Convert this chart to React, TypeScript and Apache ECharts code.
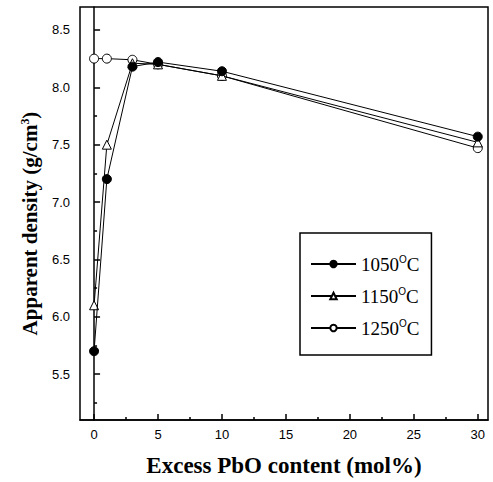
import React, { useEffect, useRef } from "react";
import * as echarts from "echarts";

const xValues = [0, 1, 3, 5, 10, 30];
const d1050 = [5.7, 7.2, 8.18, 8.22, 8.14, 7.57];
const d1150 = [6.1, 7.5, 8.21, 8.2, 8.1, 7.52];
const d1250 = [8.25, 8.25, 8.24, 8.2, 8.1, 7.47];
const xMajor = [0, 5, 10, 15, 20, 25, 30];
const xMinor = [2.5, 7.5, 12.5, 17.5, 22.5, 27.5];
const yMajor = [5.5, 6.0, 6.5, 7.0, 7.5, 8.0, 8.5];
const yMinor = [5.25, 5.75, 6.25, 6.75, 7.25, 7.75, 8.25];
const seriesNames = ["1050", "1150", "1250"];

const X_MIN = -1.1, X_MAX = 30.8, Y_MIN = 5.1, Y_MAX = 8.7;

export default function App() {
  const ref = useRef<HTMLDivElement>(null);
  useEffect(() => {
    const chart = echarts.init(ref.current!, null, { renderer: "svg" });
    const pts = (ys: number[]) => xValues.map((x, i) => [x, ys[i]]);
    const labelFont = { fontFamily: "Liberation Sans", fontSize: 13, color: "#000" };
    const titleFont = { fontFamily: "Liberation Serif", fontWeight: "bold", color: "#000" };
    const baseLine = { color: "#000", width: 1 };
    const tickStyle = { color: "#000", width: 1.5 };
    chart.setOption({
      animation: false,
      backgroundColor: "#fff",
      grid: { left: 80, right: 5, top: 7, bottom: 62, show: true, borderColor: "#000", borderWidth: 1.5, backgroundColor: "transparent" },
      xAxis: [
        {
          type: "value", min: X_MIN, max: X_MAX, position: "bottom",
          name: "Excess PbO content (mol%)", nameLocation: "middle", nameGap: 34,
          nameTextStyle: { ...titleFont, fontSize: 23 },
          axisLine: { show: true, lineStyle: { color: "#000", width: 1.5 } },
          axisTick: { show: true, inside: true, length: 6, customValues: xMajor, lineStyle: tickStyle },
          axisLabel: { customValues: xMajor, margin: 8, ...labelFont },
          splitLine: { show: false },
        },
        {
          type: "value", min: X_MIN, max: X_MAX, position: "bottom",
          axisLine: { show: false },
          axisTick: { show: true, inside: true, length: 3, customValues: xMinor, lineStyle: tickStyle },
          axisLabel: { show: false },
          splitLine: { show: false },
        },
      ],
      yAxis: [
        {
          type: "value", min: Y_MIN, max: Y_MAX, position: "left",
          name: "Apparent density (g/cm{sup|3})", nameLocation: "middle", nameGap: 40,
          nameTextStyle: { ...titleFont, fontSize: 21, padding: [0, 20, 0, 0], rich: { sup: { fontFamily: "Liberation Serif", fontSize: 12, fontWeight: "bold", verticalAlign: "top", padding: [0, 0, 9, 0] } } },
          axisLine: { show: true, lineStyle: { color: "#000", width: 1.5 } },
          axisTick: { show: true, inside: true, length: 6, customValues: yMajor, lineStyle: tickStyle },
          axisLabel: { customValues: yMajor, margin: 10, formatter: (v: number) => v.toFixed(1), ...labelFont },
          splitLine: { show: false },
        },
        {
          type: "value", min: Y_MIN, max: Y_MAX, position: "left",
          axisLine: { show: false },
          axisTick: { show: true, inside: true, length: 3, customValues: yMinor, lineStyle: tickStyle },
          axisLabel: { show: false },
          splitLine: { show: false },
        },
      ],
      legend: {
        left: 300, top: 233, orient: "vertical",
        width: 129, padding: [21, 12, 17, 10], itemGap: 12,
        itemWidth: 45, itemHeight: 8,
        borderColor: "#000", borderWidth: 1.5, backgroundColor: "#fff",
        data: seriesNames,
        formatter: (n: string) => n + "{sup|O}C",
        textStyle: {
          fontFamily: "Liberation Serif", fontSize: 19, color: "#000", lineHeight: 20,
          rich: { sup: { fontFamily: "Liberation Sans", fontSize: 10, verticalAlign: "top", lineHeight: 20, padding: [0, 0, 10, 0] } },
        },
      },
      series: [
        {
          name: "1250", type: "line", data: pts(d1250), symbol: "circle", symbolSize: 9,
          itemStyle: { color: "#fff", borderColor: "#000", borderWidth: 1 }, lineStyle: baseLine, z: 2,
        },
        {
          name: "1150", type: "line", data: pts(d1150), symbol: "triangle", symbolSize: 9,
          itemStyle: { color: "#fff", borderColor: "#000", borderWidth: 1 }, lineStyle: baseLine, z: 3,
        },
        {
          name: "1050", type: "line", data: pts(d1050), symbol: "circle", symbolSize: 9,
          itemStyle: { color: "#000", borderColor: "#000", borderWidth: 1 }, lineStyle: baseLine, z: 4,
        },
      ],
    });
    return () => chart.dispose();
  }, []);
  return <div ref={ref} style={{ width: 493, height: 482, position: "absolute", left: 0, top: 0 }} />;
}
